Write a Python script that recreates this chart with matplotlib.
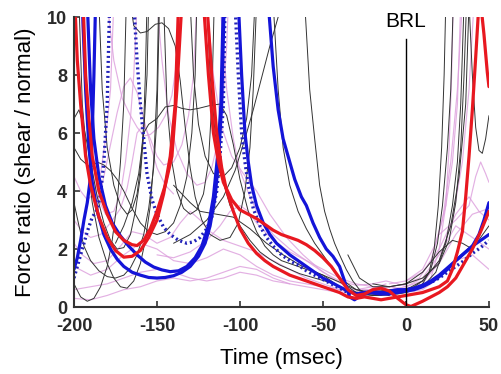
import matplotlib
matplotlib.use("Agg")
import matplotlib.pyplot as plt

# ---------------- data (time in ms, force ratio) ----------------
red_curves = [
    [(-199.5,10.5),(-198,8.5),(-196,7),(-193,5.2),(-190,4.2),(-185,3.1),(-180,2.4),(-175,1.95),(-170,1.72),
     (-165,1.75),(-160,1.95),(-155,2.4),(-150,3.0),(-146,3.9),(-142,5.2),(-139,7),(-137,10.5)],
    [(-194.5,10.5),(-193,8),(-191,6.5),(-189,5.2),(-185,4.0),(-180,3.2),(-175,2.6),(-170,2.3),(-165,2.15),
     (-162,2.12),(-158,2.3),(-154,2.7),(-150,3.3),(-145,4.2),(-141,5.2),(-138,7.5),(-135,10.5)],
    [(-122,10.5),(-119,8),(-116,6),(-113,5),(-110,4.3),(-105,3.7),(-100,3.35),(-95,3.2),(-90,3.05),(-85,2.85),
     (-80,2.65),(-75,2.5),(-70,2.4),(-65,2.3),(-60,2.15),(-55,1.95),(-50,1.7),(-45,1.4),(-40,1.0),(-35,0.6),
     (-30,0.4),(-25,0.45),(-20,0.6),(-15,0.65),(-10,0.55),(-5,0.3),(0,0.08),(3,0.02),(10,0.2),(15,0.35),
     (20,0.5),(25,0.7),(30,1.0),(35,1.5),(40,2.0),(45,2.6),(50,3.3)],
    [(-120,10.5),(-117,8),(-114,6),(-111,4.8),(-108,4),(-104,3.3),(-100,2.7),(-95,2.2),(-90,1.85),(-85,1.6),
     (-80,1.4),(-75,1.25),(-70,1.1),(-65,1.0),(-60,0.9),(-55,0.8),(-50,0.7),(-45,0.6),(-40,0.5),(-35,0.35),
     (-30,0.3),(-25,0.35),(-20,0.3),(-15,0.25),(-10,0.3),(-5,0.35),(0,0.4),(5,0.45),(10,0.5),(15,0.6),
     (20,0.7),(25,0.9),(28,1.3),(31,1.9),(34,2.6),(36,3.8),(38,5.2),(40,6.8),(42,8.6),(44,10.5)],
    [(45,10.5),(47,9.4),(49,8.1),(50,7.6)],
]

blue_curves = [
    [(-200,1.3),(-198,1.7),(-196,2.3),(-194,3.0),(-192,3.6),(-190,4.5),(-189,6),(-188,8),(-187,10.5)],
    [(-195,10.5),(-193,7.5),(-191,5.5),(-189,4.3),(-186,3.3),(-182,2.5),(-178,2.0),(-174,1.65),(-170,1.4),
     (-165,1.2),(-160,1.1),(-155,1.02),(-150,1.0),(-145,1.02),(-140,1.08),(-135,1.2),(-130,1.4),(-125,1.75),
     (-121,2.2),(-118,2.8),(-115,3.8),(-113,5),(-111,7),(-109.5,10.5)],
    [(-192,10.5),(-190,7.5),(-188,5.8),(-185,4.5),(-181,3.5),(-177,2.9),(-172,2.45),(-167,2.1),(-162,1.8),
     (-157,1.55),(-152,1.38),(-147,1.28),(-142,1.22),(-137,1.25),(-132,1.4),(-127,1.7),(-123,2.1),
     (-119,2.8),(-116,3.8),(-113.5,5.2),(-111.5,7),(-110,10.5)],
    [(-83,10.5),(-80,8.3),(-77,6.8),(-74,5.8),(-71,5.2),(-67,4.4),(-63,3.8),(-60,3.5),(-56,2.9),(-52,2.4),
     (-48,2.0),(-44,1.75),(-40,1.4),(-37,0.9),(-34,0.35),(-31,0.25),(-27,0.4),(-22,0.5),(-15,0.45),
     (-10,0.45),(-5,0.5),(0,0.55),(5,0.6),(10,0.7),(15,0.85),(20,1.05),(25,1.3),(30,1.6),(35,1.85),
     (40,2.1),(45,2.3),(50,2.5)],
    [(-101,10.5),(-99,8),(-97,6),(-95,5),(-93,4.2),(-90,3.5),(-86,2.9),(-82,2.5),(-78,2.2),(-74,2.0),
     (-70,1.8),(-65,1.6),(-60,1.4),(-55,1.2),(-50,1.0),(-45,0.85),(-40,0.7),(-35,0.55),(-30,0.45),
     (-25,0.5),(-20,0.55),(-15,0.5),(-10,0.55),(-5,0.6),(0,0.6),(5,0.65),(10,0.75),(15,0.9),(20,1.1),
     (25,1.35),(30,1.6),(35,1.85),(40,2.1),(44,2.5),(47,3.0),(50,3.6)],
]

blue_dotted_curves = [
    [(-200,1.0),(-198,1.4),(-195,2.0),(-192,2.6),(-189,3.1),(-186,3.35),(-184,3.9),(-182,5),(-180,7),(-178.5,10.5)],
    [(-164,10.5),(-162,8.5),(-160,7),(-158,5.8),(-156,4.6),(-153,3.7),(-150,3.2),(-146,2.75),(-142,2.5),
     (-137,2.3),(-132,2.2),(-128,2.25),(-124,2.4),(-120,2.7),(-117,3.1),(-114,4),(-112,5.2),(-110,7),(-109,10.5)],
    [(-103,10.5),(-101,8),(-99,6),(-97,5),(-95,4.2),(-92,3.4),(-88,2.8),(-84,2.4),(-80,2.1),(-75,1.8),
     (-70,1.6),(-65,1.45),(-60,1.25),(-55,1.1),(-50,0.95),(-45,0.8),(-40,0.65),(-35,0.5),(-30,0.45),
     (-25,0.5),(-20,0.5),(-15,0.45),(-10,0.5),(-5,0.55),(0,0.6),(5,0.65),(10,0.75),(15,0.85),(20,1.0),
     (25,1.2),(30,1.4),(35,1.6),(40,1.85),(45,2.05),(50,2.3)],
]

black_curves = [
    [(-200,0.8),(-196,0.35),(-192,0.2),(-188,0.3),(-184,0.7),(-180,1.4),(-177,2.3),(-174,3.6),(-172,5),(-170,7),(-168.5,10.5)],
    [(-197,10.5),(-195,7),(-192,5),(-189,3.6),(-185,2.4),(-180,1.5),(-176,1.0),(-172,0.7),(-168,0.65),
     (-164,0.9),(-160,1.5),(-157,2.3),(-154,3.5),(-152,5),(-150,7.5),(-149,10.5)],
    [(-200,5.5),(-196,5.1),(-190,4.8),(-186,5),(-182,4.9),(-178,4.7),(-174,4.4),(-170,4.0),(-165,3.4),
     (-160,2.9),(-155,2.6),(-150,2.5),(-145,2.6),(-140,2.9),(-136,3.5),(-132,4.5),(-129,6),(-127,8),(-126,10.5)],
    [(-185,10.5),(-183,7.5),(-180,5.5),(-176,4.2),(-172,3.5),(-168,3.2),(-165,3.35),(-162,3.9),(-160,4.8),
     (-158,6.3),(-157,8),(-156,10.5)],
    [(-166,10.5),(-164,9.7),(-160,9.45),(-156,9.5),(-151,9.75),(-147,9.8),(-143,9.6),(-139,9.0),(-136,7.8),
     (-133,6.2),(-130,4.8),(-127,3.8),(-123,3.0),(-118,2.5),(-112,2.3),(-106,2.4),(-101,2.9),(-97,4),
     (-94,5.5),(-92,7.5),(-90,10.5)],
    [(-175,2.2),(-170,2.8),(-165,3.6),(-161,4.6),(-158,6.0),(-155,6.3),(-150,6.5),(-145,6.9),(-140,6.95),
     (-135,6.85),(-130,6.8),(-125,6.85),(-118,6.95),(-112,7.0),(-108,6.6),(-104,5.6),(-100,4.4),(-95,3.3),
     (-90,2.6),(-85,2.1),(-80,1.8),(-75,1.6),(-70,1.5),(-65,1.4),(-60,1.3),(-55,1.2),(-50,1.1),(-45,0.9),
     (-40,0.7),(-35,0.5),(-30,0.45),(-20,0.4),(-10,0.45)],
    [(-146,10.5),(-144,7),(-141,5),(-138,4),(-134,3.4),(-130,3.2),(-126,3.35),(-122,3.9),(-119,5),(-117,7),(-115.5,10.5)],
    [(-200,3.6),(-197,2.8),(-194,2.1),(-190,1.6),(-185,1.25),(-180,1.05),(-175,1.0),(-170,1.1),(-166,1.35),
     (-162,1.8),(-158,2.5),(-155,3.4),(-152,4.8),(-150,6.5),(-148.5,10.5)],
    [(-61,10.5),(-58,7.5),(-55,5.8),(-52,4.2),(-49,3.3),(-46,2.7),(-43,2.2),(-40,1.8),(-36,1.3),(-32,0.9),
     (-28,0.6),(-24,0.45),(-20,0.4),(-15,0.4),(-10,0.45),(-5,0.45),(0,0.5),(5,0.6),(10,0.8),(14,1.2),
     (17,2),(19.5,3.5),(21.5,5.5),(23,8),(24,10.5)],
    [(-140,2.2),(-130,2.5),(-120,3.0),(-110,3.8),(-103,4.7),(-97,5.8),(-92,6.8),(-87,7.9),(-82,9.0),(-77,10.0),(-74,10.5)],
    [(-120,10.5),(-118,8),(-115,6),(-111,4.5),(-106,3.5),(-100,2.8),(-94,2.3),(-88,1.9),(-82,1.65),(-76,1.45),
     (-70,1.3),(-64,1.15),(-58,1.05),(-52,0.95),(-46,0.85),(-40,0.7),(-34,0.55),(-28,0.5),(-22,0.5),
     (-16,0.55),(-10,0.6),(-4,0.6),(0,0.6),(5,0.7),(10,0.9),(15,1.3),(19,2.2),(22,3.5),(25,5.5),(27,7.5),(28.5,10.5)],
    [(-30,0.5),(-20,0.45),(-10,0.5),(0,0.55),(10,0.7),(18,1.2),(24,2.2),(28,3.5),(31,5),(33,7),(35,10.5)],
    [(-40,1.0),(-30,0.6),(-20,0.5),(-10,0.55),(0,0.6),(10,0.9),(20,1.6),(27,2.8),(32,4.5),(36,7),(38,10.5)],
    [(-20,0.8),(-10,0.7),(0,0.8),(10,1.2),(20,1.9),(28,2.3),(34,2.2),(40,2.0),(45,2.4),(50,2.8)],
    [(38,10.5),(40,8),(42,6.2),(44,5.4),(46,5.3),(48,5.8),(50,6.6)],
    [(-80,10.5),(-77,7.5),(-74,5.5),(-70,4.2),(-65,3.3),(-60,2.7),(-55,2.2),(-50,1.8),(-45,1.4),(-40,1.0),
     (-35,0.7),(-30,0.5),(-25,0.45),(-20,0.5)],
    [(-140,4.2),(-130,3.6),(-124,3.3),(-114,3.2),(-104,3.1),(-94,2.7),(-84,2.2),(-74,1.8),(-64,1.45),
     (-52,1.15),(-40,0.86),(-30,0.6),(-20,0.45),(-10,0.4)],
    [(-200,6.5),(-197,6.8),(-194,6.2),(-190,5.0),(-186,3.8),(-182,2.9),(-178,2.3),(-174,2.0),(-170,2.05),
     (-166,2.5),(-163,3.3),(-160,4.5),(-158,6),(-156,8),(-155,10.5)],
    [(-130,10.5),(-128,8),(-125,6.3),(-121,5.2),(-116,4.6),(-110,4.5),(-105,4.8),(-100,5.5),(-96,6.5),(-93,8),(-91,10.5)],
    [(-35,1.8),(-28,1.0),(-20,0.7),(-10,0.7),(0,0.8),(10,1.0),(20,1.5),(26,2.3),(30,3.6),(33,5.5),(35,8),(36.5,10.5)],
]

pink_curves = [
    [(-200,0.6),(-190,0.7),(-180,0.8),(-170,1.0),(-160,1.2),(-150,1.3),(-140,1.2),(-130,1.0),(-120,0.9),
     (-110,1.0),(-100,1.2),(-90,1.1),(-80,0.9),(-70,0.8),(-60,0.7),(-50,0.6),(-40,0.5),(-30,0.6),(-20,0.7),
     (-10,0.6),(0,0.5),(10,0.6),(20,1.0),(30,1.6),(40,1.8),(50,1.3)],
    [(-200,1.4),(-190,1.1),(-180,1.3),(-170,1.8),(-160,2.2),(-150,2.0),(-140,1.6),(-130,1.5),(-120,1.7),
     (-110,2.0),(-100,1.8),(-90,1.4),(-80,1.1),(-70,0.9),(-60,0.8),(-50,0.7),(-40,0.6),(-30,0.5),(-20,0.6),
     (-10,0.7),(0,0.6),(10,0.8),(20,1.6),(28,3),(34,5),(38,7.5),(41,10.5)],
    [(-200,2.2),(-195,1.8),(-188,1.5),(-180,1.6),(-172,2.1),(-165,2.6),(-158,2.5),(-150,2.2),(-142,2.4),
     (-136,2.9),(-130,3.3),(-124,3.0),(-118,2.6),(-110,2.3),(-100,2.1),(-90,1.9),(-80,1.6),(-70,1.3),
     (-60,1.0),(-50,0.8),(-40,0.6),(-30,0.5),(-20,0.55),(-10,0.6),(0,0.7),(10,1.0),(20,1.8),(30,2.8),
     (40,2.4),(50,2.0)],
    [(-196,10.5),(-193,7),(-190,5),(-186,3.8),(-181,3.2),(-176,3.3),(-172,3.9),(-169,5),(-166,6.5),(-164,8),(-162,10.5)],
    [(-180,10.5),(-176,8.5),(-171,7.2),(-166,6.6),(-162,6.2),(-158,5.9),(-154,5.95),(-149,6.2),(-145,6.6),
     (-141,7.3),(-138,8.5),(-135,10.5)],
    [(-186,3.5),(-182,4.5),(-178,5.6),(-174,6.7),(-170,7.6),(-166,7.9),(-162,7.4),(-158,6.5),(-154,5.6),
     (-150,4.8),(-145,4.2),(-140,3.9)],
    [(-150,1.8),(-140,1.7),(-130,1.9),(-120,2.3),(-112,2.8),(-106,3.3),(-100,3.5),(-95,3.3),(-90,2.9),
     (-80,2.3),(-70,1.9),(-60,1.6),(-50,1.3),(-40,1.0),(-30,0.8),(-20,0.7),(-10,0.7),(0,0.8),(8,1.0),
     (15,1.6),(22,3),(27,5),(31,7.5),(34,10.5)],
    [(-112,10.5),(-108,7.5),(-104,5.8),(-100,4.7),(-94,3.8),(-88,3.1),(-80,2.5),(-70,2.0),(-60,1.6),
     (-50,1.2),(-40,0.9),(-30,0.75),(-20,0.8),(-12,0.9),(-5,0.8),(0,0.7),(10,0.9),(20,1.5),(30,2.5),
     (40,3.2),(50,3.4)],
    [(-200,3.0),(-195,2.6),(-190,2.4),(-184,2.5),(-178,2.9),(-172,3.4),(-168,4.1),(-165,5),(-162,6),
     (-158,6.3),(-154,5.8),(-150,5.2),(-146,4.9),(-140,5.0),(-135,5.6),(-131,6.6),(-128,8),(-126,10.5)],
    [(-150,10.5),(-147,8.5),(-143,6.6),(-138,5.4),(-132,4.6),(-126,4.2),(-121,4.3),(-117,4.8),(-113,5.8),
     (-110,7.3),(-108,9),(-107,10.5)],
    [(0,0.9),(10,1.3),(18,2.2),(24,3.5),(28,5),(31,7),(33,10.5)],
    [(-10,0.8),(0,0.9),(10,1.2),(20,2.0),(30,3.2),(38,3.8),(44,3.3),(50,3.0)],
    [(-200,0.3),(-190,0.25),(-180,0.4),(-170,0.6),(-160,0.7),(-150,0.9),(-140,1.0),(-130,0.9),(-120,1.0),
     (-110,1.2),(-100,1.4),(-90,1.3),(-80,1.0),(-70,0.8)],
    [(15,1.0),(20,2.0),(24,3.5),(26,5.5),(27.5,8),(28.5,10.5)],
    [(-200,4.5),(-196,4.0),(-192,3.7),(-188,3.9),(-184,4.6),(-181,5.8),(-178,7.5),(-176,10.5)],
    [(-120,10.5),(-116,8),(-111,6.2),(-105,5.2),(-98,4.6),(-90,4.0),(-82,3.2),(-72,2.4),(-62,1.8),(-52,1.3),
     (-42,0.9),(-32,0.6),(-22,0.6),(-12,0.8)],
    [(20,2.5),(30,3.0),(38,3.5),(42,4.5),(45,5.0),(48,4.6),(50,4.3)],
]

x_ticks = [-200, -150, -100, -50, 0, 50]
y_ticks = [0, 2, 4, 6, 8, 10]
brl_time = 0
brl_top = 9.25

# ---------------- plotting ----------------
plt.rcParams['font.family'] = ['Liberation Sans', 'DejaVu Sans']
fig = plt.figure(figsize=(5.02, 3.74), dpi=100)
ax = fig.add_axes([0.1474, 0.179, 0.8266, 0.7755])

def draw(curves, **kw):
    for c in curves:
        ts = [p[0] for p in c]
        ys = [p[1] for p in c]
        ax.plot(ts, ys, solid_capstyle='round', **kw)

draw(pink_curves, color='#dc9ddc', lw=0.85, alpha=0.8)
draw(black_curves, color='#333333', lw=0.7)
draw(blue_dotted_curves, color='#2222b8', lw=2.4, linestyle=(0, (0.6, 0.9)))
draw(blue_curves, color='#1414d8', lw=2.3)
draw(red_curves, color='#e81820', lw=2.3)

ax.plot([brl_time, brl_time], [0, brl_top], color='black', lw=1.0)
ax.text(brl_time, 9.83, 'BRL', ha='center', va='center', fontsize=15)

ax.set_xlim(-200, 50)
ax.set_ylim(0, 10)
ax.set_xticks(x_ticks)
ax.set_yticks(y_ticks)
ax.set_xticklabels([str(v) for v in x_ticks], fontsize=13, fontweight='bold')
ax.set_yticklabels([str(v) for v in y_ticks], fontsize=13, fontweight='bold')
ax.tick_params(direction='in', length=4, width=1.2, colors='#333333', labelcolor='#2a2a2a')
ax.tick_params(axis='x', pad=8)
ax.tick_params(axis='y', pad=5)
for s in ['top', 'right']:
    ax.spines[s].set_visible(False)
for s in ['left', 'bottom']:
    ax.spines[s].set_linewidth(1.5)
    ax.spines[s].set_color('#333333')
ax.set_xlabel('Time (msec)', fontsize=16, labelpad=9)
ax.set_ylabel('Force ratio (shear / normal)', fontsize=16, labelpad=8)

fig.savefig('out.png', dpi=100)
